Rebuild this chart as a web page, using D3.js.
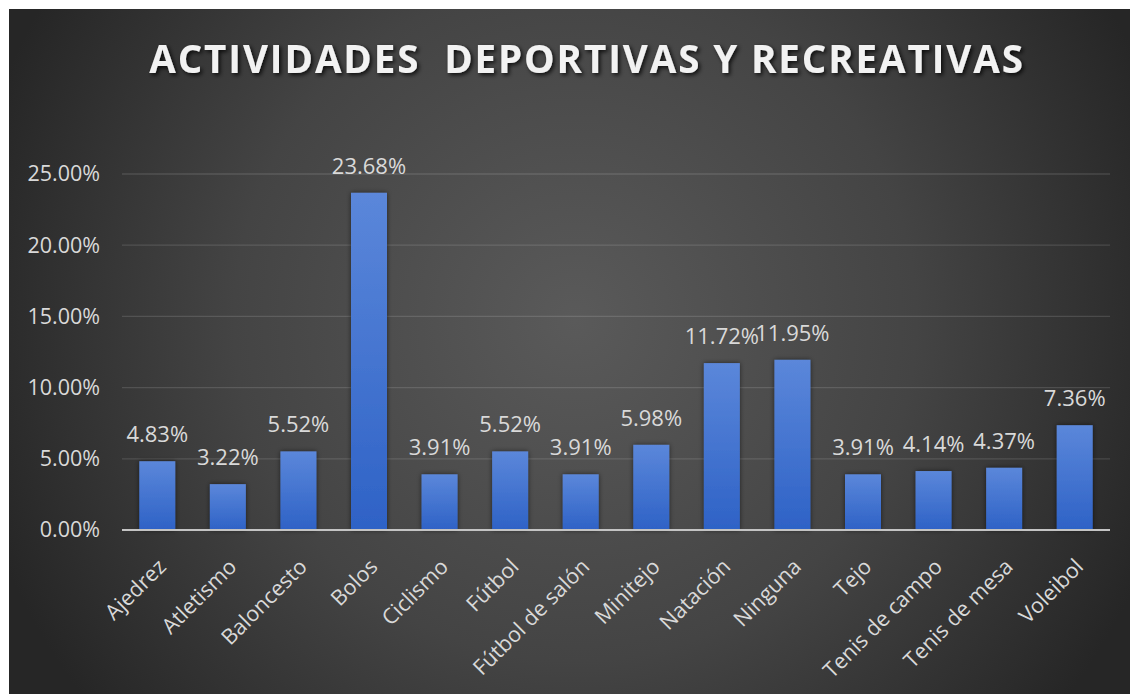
<!DOCTYPE html>
<html>
<head>
<meta charset="utf-8">
<script src="https://cdn.jsdelivr.net/npm/d3@7"></script>
<style>
  html, body { margin: 0; padding: 0; background: #ffffff; }
  svg { display: block; }
</style>
</head>
<body>
<svg id="chart" width="1130" height="694"></svg>
<script>
// Participación por actividad (porcentaje de encuestados)
const categories = ["Ajedrez", "Atletismo", "Baloncesto", "Bolos", "Ciclismo", "Fútbol",
  "Fútbol de salón", "Minitejo", "Natación", "Ninguna", "Tejo", "Tenis de campo",
  "Tenis de mesa", "Voleibol"];
const values = [4.83, 3.22, 5.52, 23.68, 3.91, 5.52, 3.91, 5.98, 11.72, 11.95, 3.91, 4.14, 4.37, 7.36];
const yTicks = [0, 5, 10, 15, 20, 25];
const title = "ACTIVIDADES  DEPORTIVAS Y RECREATIVAS";

const svg = d3.select("#chart");
const defs = svg.append("defs");

// Background: dark radial gradient
const bg = defs.append("radialGradient").attr("id", "bgGrad")
  .attr("gradientUnits", "userSpaceOnUse")
  .attr("cx", 575).attr("cy", 320).attr("r", 620);
bg.append("stop").attr("offset", "0%").attr("stop-color", "#5a5a5a");
bg.append("stop").attr("offset", "55%").attr("stop-color", "#444444");
bg.append("stop").attr("offset", "100%").attr("stop-color", "#262626");

// Bar fill: lighter at top, deeper blue at bottom
const barGrad = defs.append("linearGradient").attr("id", "barGrad")
  .attr("x1", 0).attr("y1", 0).attr("x2", 0).attr("y2", 1);
barGrad.append("stop").attr("offset", "0%").attr("stop-color", "#5b87da");
barGrad.append("stop").attr("offset", "100%").attr("stop-color", "#2e62c6");

const barShadow = defs.append("filter").attr("id", "barShadow")
  .attr("x", "-30%").attr("y", "-10%").attr("width", "160%").attr("height", "120%");
barShadow.append("feDropShadow").attr("dx", 0).attr("dy", 0).attr("stdDeviation", 2.5)
  .attr("flood-color", "#000").attr("flood-opacity", 0.55);

const titleShadow = defs.append("filter").attr("id", "titleShadow")
  .attr("x", "-5%").attr("y", "-30%").attr("width", "110%").attr("height", "160%");
titleShadow.append("feDropShadow").attr("dx", 2).attr("dy", 2).attr("stdDeviation", 2)
  .attr("flood-color", "#000").attr("flood-opacity", 0.8);

svg.append("rect").attr("x", 9).attr("y", 9).attr("width", 1121).attr("height", 685)
  .attr("fill", "url(#bgGrad)");

const fontFamily = "'Open Sans', 'Noto Sans', sans-serif";
const plot = { left: 122, right: 1110, top: 174, bottom: 530 };

const x = d3.scaleBand().domain(categories)
  .range([plot.left, plot.right]).paddingInner(0.49).paddingOuter(0.245);
const y = d3.scaleLinear().domain([0, 25]).range([plot.bottom, plot.top]);

// Gridlines
svg.append("g").selectAll("line").data(yTicks.filter(t => t > 0)).join("line")
  .attr("x1", plot.left).attr("x2", plot.right)
  .attr("y1", d => y(d)).attr("y2", d => y(d))
  .attr("stroke", "#ffffff").attr("stroke-opacity", 0.13).attr("stroke-width", 1.3);

// Y axis labels
const yAxis = d3.axisLeft(y).tickValues(yTicks).tickSize(0).tickPadding(22)
  .tickFormat(d => d.toFixed(2) + "%");
svg.append("g").attr("transform", `translate(${plot.left},0)`).call(yAxis)
  .call(g => g.select(".domain").remove())
  .selectAll("text")
  .attr("fill", "#d9d9d9").attr("font-family", fontFamily).attr("font-size", 21.5);

// Bars
svg.append("g").selectAll("rect").data(values).join("rect")
  .attr("x", (d, i) => x(categories[i]))
  .attr("y", d => y(d))
  .attr("width", x.bandwidth())
  .attr("height", d => y(0) - y(d))
  .attr("fill", "url(#barGrad)")
  .attr("filter", "url(#barShadow)");

// Category axis line
const xAxis = d3.axisBottom(x).tickSize(0).tickPadding(0);
const xg = svg.append("g").attr("transform", `translate(0,${plot.bottom})`).call(xAxis);
xg.select(".domain").attr("stroke", "#c4c4c4").attr("stroke-width", 2)
  .attr("d", `M${plot.left},0H${plot.right}`);
xg.selectAll("text")
  .attr("fill", "#d9d9d9").attr("font-family", fontFamily).attr("font-size", 21.5)
  .attr("text-anchor", "end").attr("dy", null).attr("y", 0)
  .attr("transform", "translate(10,38) rotate(-45)");

// Data labels
svg.append("g").selectAll("text").data(values).join("text")
  .attr("x", (d, i) => x(categories[i]) + x.bandwidth() / 2)
  .attr("y", d => y(d) - 19)
  .attr("text-anchor", "middle")
  .attr("fill", "#d9d9d9").attr("font-family", fontFamily).attr("font-size", 22)
  .text(d => d.toFixed(2) + "%");

// Title
svg.append("text")
  .attr("x", 587).attr("y", 73)
  .attr("text-anchor", "middle")
  .attr("fill", "#f2f2f2").attr("font-family", fontFamily).attr("font-weight", 700)
  .attr("font-size", 38.5).attr("letter-spacing", 1.9)
  .attr("filter", "url(#titleShadow)")
  .style("white-space", "pre")
  .text(title);
</script>
</body>
</html>
